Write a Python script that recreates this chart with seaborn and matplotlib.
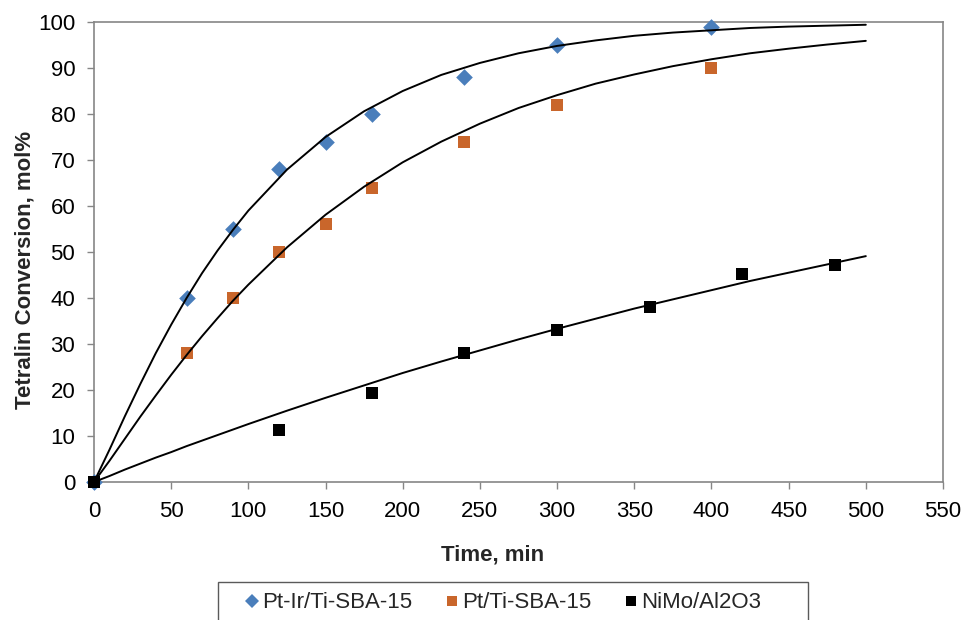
import matplotlib
matplotlib.use("Agg")
import matplotlib.pyplot as plt
from matplotlib.lines import Line2D
from matplotlib.patches import Rectangle
import pandas as pd
import seaborn as sns

# Measured conversion (mol%) versus time (min)
series_names = ["Pt-Ir/Ti-SBA-15", "Pt/Ti-SBA-15", "NiMo/Al2O3"]

ptir_time = [0, 60, 90, 120, 150, 180, 240, 300, 400]
ptir_conv = [0, 40, 55, 68, 74, 80, 88, 95, 99]

pt_time = [0, 60, 90, 120, 150, 180, 240, 300, 400]
pt_conv = [0, 28, 40, 50, 56, 64, 74, 82, 90]

nimo_time = [0, 120, 180, 240, 300, 360, 420, 480]
nimo_conv = [0, 11.3, 19.3, 28, 33, 38, 45.3, 47.2]

# Kinetic fit curves
fit_time = [0, 10, 20, 30, 40, 50, 60, 70, 80, 90, 100, 125, 150, 175, 200,
            225, 250, 275, 300, 325, 350, 375, 400, 425, 450, 475, 500]
ptir_fit = [0, 7.0, 14.3, 21.3, 28.0, 34.2, 40.0, 45.4, 50.3, 54.8, 59.0,
            67.9, 75.0, 80.6, 85.0, 88.5, 91.1, 93.2, 94.8, 96.0, 97.0,
            97.7, 98.2, 98.7, 99.0, 99.2, 99.4]
pt_fit = [0, 4.6, 9.4, 14.2, 18.8, 23.3, 27.6, 31.7, 35.6, 39.4, 42.9,
          51.0, 58.1, 64.2, 69.5, 74.0, 77.9, 81.3, 84.1, 86.6, 88.6,
          90.4, 91.9, 93.2, 94.2, 95.1, 95.9]
nimo_fit = [0, 1.3, 2.7, 4.0, 5.3, 6.5, 7.8, 9.0, 10.2, 11.4, 12.6,
            15.5, 18.3, 21.0, 23.7, 26.2, 28.6, 31.0, 33.3, 35.5, 37.7,
            39.7, 41.7, 43.7, 45.5, 47.3, 49.1]

x_ticks = list(range(0, 551, 50))
y_ticks = list(range(0, 101, 10))

colors = {"Pt-Ir/Ti-SBA-15": "#4A7EBB", "Pt/Ti-SBA-15": "#C9662B",
          "NiMo/Al2O3": "#000000"}
markers = {"Pt-Ir/Ti-SBA-15": "D", "Pt/Ti-SBA-15": "s", "NiMo/Al2O3": "s"}
marker_area = {"Pt-Ir/Ti-SBA-15": 72, "Pt/Ti-SBA-15": 64, "NiMo/Al2O3": 64}

points = pd.concat([
    pd.DataFrame({"time": ptir_time, "conv": ptir_conv, "catalyst": series_names[0]}),
    pd.DataFrame({"time": pt_time, "conv": pt_conv, "catalyst": series_names[1]}),
    pd.DataFrame({"time": nimo_time, "conv": nimo_conv, "catalyst": series_names[2]}),
])
fits = pd.concat([
    pd.DataFrame({"time": fit_time, "conv": ptir_fit, "catalyst": series_names[0]}),
    pd.DataFrame({"time": fit_time, "conv": pt_fit, "catalyst": series_names[1]}),
    pd.DataFrame({"time": fit_time, "conv": nimo_fit, "catalyst": series_names[2]}),
])

sns.set_theme(style="white")
plt.rcParams["font.family"] = ["Liberation Sans", "DejaVu Sans"]

W, H = 963, 620
fig = plt.figure(figsize=(W / 100, H / 100), dpi=100)
ax = fig.add_axes([94 / W, 1 - 482 / H, (943 - 94) / W, (482 - 22) / H])

for name in series_names:
    sub = points[points["catalyst"] == name]
    sns.scatterplot(data=sub, x="time", y="conv", ax=ax, marker=markers[name],
                    color=colors[name], s=marker_area[name], linewidth=0,
                    zorder=3, clip_on=False, legend=False)

sns.lineplot(data=fits, x="time", y="conv", units="catalyst", estimator=None,
             color="black", linewidth=1.4, ax=ax, zorder=4, legend=False)

ax.set_xlim(0, 550)
ax.set_ylim(0, 100)
ax.set_xticks(x_ticks)
ax.set_yticks(y_ticks)
ax.set_xlabel("")
ax.set_ylabel("")
ax.tick_params(axis="both", which="major", direction="out", length=5,
               width=1, color="#868686", labelsize=16, pad=8.5,
               labelcolor="black", bottom=True, left=True)
for side in ["left", "bottom", "top", "right"]:
    ax.spines[side].set_visible(True)
    ax.spines[side].set_color("#868686")
    ax.spines[side].set_linewidth(1.2)
ax.grid(False)

fig.text(493 / W, 1 - 555 / H, "Time, min", ha="center", va="center",
         fontsize=16, fontweight="bold")
fig.text(25 / W, 1 - 270 / H, "Tetralin Conversion, mol%", ha="center",
         va="center", rotation=90, fontsize=16, fontweight="bold")

# Legend box running off the bottom edge
fig.patches.append(Rectangle((218 / W, -0.05), (808 - 218) / W,
                             0.05 + (620 - 582) / H, transform=fig.transFigure,
                             facecolor="white", edgecolor="#5a5a5a",
                             linewidth=1.0))
handles = [Line2D([], [], linestyle="none", marker=markers[n],
                  markersize=7 if markers[n] == "D" else 7.5,
                  markerfacecolor=colors[n], markeredgewidth=0)
           for n in series_names]
fig.legend(handles, series_names, loc="center", ncol=3,
           bbox_to_anchor=(503 / W, 1 - 603 / H), frameon=False,
           fontsize=16, handlelength=0.6, handletextpad=0.15,
           columnspacing=1.5, borderpad=0, borderaxespad=0)

fig.savefig("out.png", dpi=100)
